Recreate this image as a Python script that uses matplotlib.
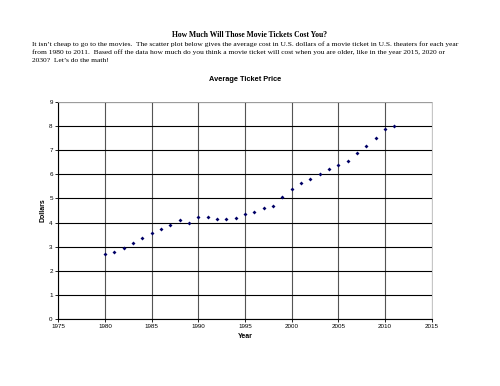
import matplotlib
matplotlib.use("Agg")
import matplotlib.pyplot as plt

years = list(range(1980, 2012))
prices = [2.70, 2.79, 2.95, 3.15, 3.37, 3.56, 3.72, 3.91, 4.12, 3.99,
          4.24, 4.23, 4.16, 4.15, 4.18, 4.35, 4.42, 4.60, 4.69, 5.06,
          5.39, 5.66, 5.81, 6.03, 6.21, 6.41, 6.55, 6.88, 7.18, 7.50,
          7.89, 8.01]
x_ticks = list(range(1975, 2016, 5))
y_ticks = list(range(0, 10))

heading = "How Much Will Those Movie Tickets Cost You?"
intro = [
    "It isn\u2019t cheap to go to the movies.  The scatter plot below gives the average cost in U.S. dollars of a movie ticket in U.S. theaters for each year",
    "from 1980 to 2011.  Based off the data how much do you think a movie ticket will cost when you are older, like in the year 2015, 2020 or",
    "2030?  Let\u2019s do the math!",
]

fig = plt.figure(figsize=(5, 3.86), dpi=100)
fig.text(0.5, 1 - 35/386, heading, ha='center', va='center',
         family='Liberation Serif', fontweight='bold', fontsize=5.5)
for i, line in enumerate(intro):
    fig.text(32/500, 1 - (43.7 + 8.2*i)/386, line, ha='left', va='center',
             family='Liberation Serif', fontsize=5.36)

ax = fig.add_axes([58.3/500, 1 - 318.7/386, 373.4/500, 216.4/386])
ax.scatter(years, prices, marker='D', s=4, color='#000066', linewidths=0, zorder=3)
ax.set_xlim(1975, 2015)
ax.set_ylim(0, 9)
ax.set_xticks(x_ticks)
ax.set_yticks(y_ticks)
ax.tick_params(labelsize=4.5, length=2, width=0.6, colors='black', pad=2)
for lab in ax.get_xticklabels() + ax.get_yticklabels():
    lab.set_family('Liberation Sans')
ax.grid(axis='y', color='black', linewidth=0.8)
ax.grid(axis='x', color='#555555', linewidth=0.8)
ax.set_axisbelow(True)
ax.spines['left'].set_color('black')
ax.spines['bottom'].set_color('black')
ax.spines['top'].set_color('#bbbbbb')
ax.spines['right'].set_color('#bbbbbb')
ax.spines['top'].set_linewidth(0.6)
ax.spines['right'].set_linewidth(0.6)

ax.set_title("Average Ticket Price", family='Liberation Sans', fontweight='bold',
             fontsize=5.3, pad=15)
ax.set_xlabel("Year", family='Liberation Sans', fontweight='bold', fontsize=5, labelpad=3)
ax.set_ylabel("Dollars", family='Liberation Sans', fontweight='bold', fontsize=5, labelpad=2)

fig.savefig("out.png", dpi=100)
